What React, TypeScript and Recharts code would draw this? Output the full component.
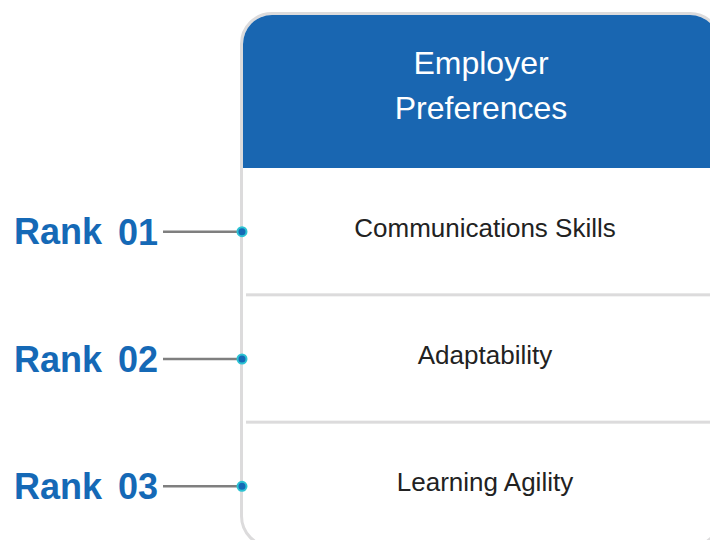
import React from 'react';
import { ComposedChart, XAxis, YAxis } from 'recharts';

// Infographic content
const HEADER_LINES = ['Employer', 'Preferences'];
const RANKS = ['Rank 01', 'Rank 02', 'Rank 03'];
const SKILLS = ['Communications Skills', 'Adaptability', 'Learning Agility'];

const rows = RANKS.map((rank, i) => ({ rank, skill: SKILLS[i] }));

const BLUE = '#1966b1';
const RANK_BLUE = '#1569b6';
const BORDER = '#dcdbdc';

const CHART_W = 723;
const AXIS_W = 242;
const SKILL_W = 1; // an axis of width 0 is not drawn at all
const PLOT_W = CHART_W - AXIS_W - SKILL_W;

function RankTick(props: any) {
  const { x, y, payload } = props;
  const [word, num] = String(payload.value).split(' ');
  return (
    <g>
      <text
        x={x - 84}
        y={y}
        textAnchor="end"
        dominantBaseline="central"
        fill={RANK_BLUE}
        fontSize={36}
        fontWeight="bold"
      >
        {word}
        <tspan dx={6}>{' ' + num}</tspan>
      </text>
      <line x1={x - 79} y1={y} x2={x} y2={y} stroke="#7f7f7f" strokeWidth={2.5} />
      <circle cx={x} cy={y} r={4.5} fill={RANK_BLUE} stroke="#2cc3d3" strokeWidth={2} />
    </g>
  );
}

// right-hand axis: skill name centred in the row, divider on top of each row after the first
function SkillTick(props: any) {
  const { x, y, payload, index } = props;
  const half = payload.offset || 0;
  const left = x - PLOT_W;
  return (
    <g>
      {index > 0 && (
        <rect x={left + 4} y={y - half - 2} width={PLOT_W} height={3} fill={BORDER} />
      )}
      <text
        x={left + PLOT_W / 2 + 3}
        y={y - 4}
        textAnchor="middle"
        dominantBaseline="central"
        fill="#222"
        fontSize={26}
      >
        {payload.value}
      </text>
    </g>
  );
}

export default function App() {
  return (
    <div
      style={{
        position: 'absolute',
        left: 0,
        top: 0,
        width: 710,
        height: 540,
        overflow: 'hidden',
        background: '#fff',
        fontFamily: '"Liberation Sans", Arial, sans-serif',
      }}
    >
      {/* card frame */}
      <div
        style={{
          position: 'absolute',
          left: 240,
          top: 12,
          width: 476,
          height: 530,
          border: `3px solid ${BORDER}`,
          borderRadius: 32,
          overflow: 'hidden',
          background: '#fff',
        }}
      >
        <div
          style={{
            height: 153,
            background: BLUE,
            color: '#fff',
            fontSize: 32,
            lineHeight: '45px',
            textAlign: 'center',
            paddingTop: 26,
            boxSizing: 'border-box',
          }}
        >
          {HEADER_LINES.map((line) => (
            <div key={line}>{line}</div>
          ))}
        </div>
      </div>

      <div style={{ position: 'absolute', left: 0, top: 0 }}>
        <ComposedChart
          layout="vertical"
          width={CHART_W}
          height={550}
          data={rows}
          margin={{ top: 168, right: 0, bottom: 0, left: 0 }}
        >
          <XAxis type="number" domain={[0, 1]} hide />
          <YAxis
            yAxisId="rank"
            type="category"
            scale="band"
            dataKey="rank"
            width={AXIS_W}
            axisLine={false}
            tickLine={false}
            tickSize={0}
            tickMargin={0}
            interval={0}
            tick={<RankTick />}
          />
          <YAxis
            yAxisId="skill"
            type="category"
            scale="band"
            dataKey="skill"
            orientation="right"
            width={SKILL_W}
            axisLine={false}
            tickLine={false}
            tickSize={0}
            tickMargin={0}
            interval={0}
            tick={<SkillTick />}
          />
        </ComposedChart>
      </div>
    </div>
  );
}
